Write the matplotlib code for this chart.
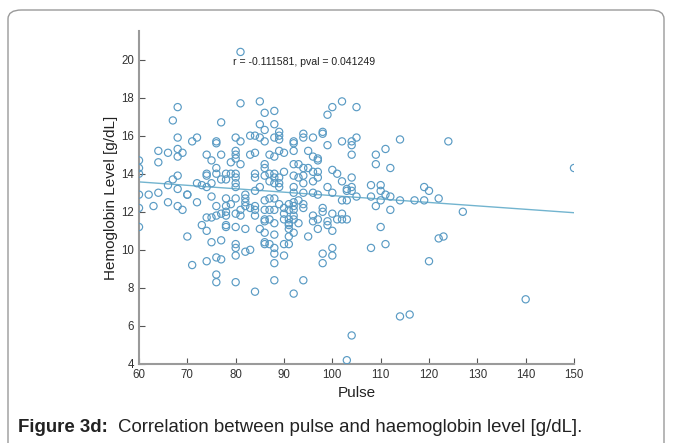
import matplotlib
matplotlib.use("Agg")
import matplotlib.pyplot as plt
from matplotlib.patches import FancyBboxPatch

plt.rcParams['font.family'] = ['Liberation Sans', 'DejaVu Sans']

pulse = [
    68, 81, 85, 67, 77, 86, 88, 85, 88, 86, 89, 89, 89, 68, 71, 72, 76, 76, 80, 81,
    83, 84, 85, 86, 88, 68, 69, 66, 64, 68, 74, 77, 80, 80, 83, 84, 87, 88, 89, 90,
    64, 75, 79, 80, 81, 76, 76, 74, 74, 78, 79, 80, 80, 80, 80, 84, 84, 86, 86, 86,
    87, 88, 88, 88, 89, 89, 89, 87, 90, 68, 67, 66, 72, 73, 74, 75, 77, 78, 82, 84,
    85, 60, 60, 60, 60, 62, 64, 68, 70, 75, 78, 87, 88,
    102, 100, 99, 105, 92, 92, 94, 94, 96, 98, 98, 99, 102, 104, 104, 105, 104, 114,
    111, 109, 109, 112, 92, 95, 96, 97, 97, 92, 93, 94, 95, 96, 97, 92, 93, 94, 94,
    96, 97, 100, 101, 102, 104, 99, 104, 104, 103, 108, 110, 110, 111, 119, 120, 92,
    94, 96, 97, 100, 105, 108, 114, 117, 119, 122, 112, 92, 103, 93,
    60, 60, 63, 66, 68, 69, 70, 71, 73, 74, 74, 75, 76, 77, 78, 78, 76, 78, 78, 80,
    82, 75, 77, 76, 77, 74, 76, 76, 80, 80, 80, 80, 82, 83, 84, 79, 80, 81, 82, 83,
    84, 84, 84, 82, 82, 81, 80, 78, 86, 86, 87, 88, 86, 86, 87, 88, 85, 86, 86, 86,
    87, 88, 88, 88, 88, 88, 90, 90, 89, 90, 90, 90, 91, 91, 72, 70,
    91, 91, 91, 91, 91, 92, 92, 92, 92, 92, 93, 92, 91, 94, 94, 95, 96, 96, 97, 97,
    98, 98, 99, 99, 100, 100, 101, 102, 103, 102, 100, 100, 98, 98, 94, 92, 108, 111,
    110, 109, 112, 122, 123, 120, 102, 103, 110,
    114, 116, 104, 103, 127, 140, 150, 124, 81,
]
hemoglobin = [
    17.5, 17.7, 17.8, 16.8, 16.7, 17.2, 17.3, 16.6, 16.6, 16.3, 16.2, 16.0, 15.8, 15.9, 15.7, 15.9, 15.7, 15.6, 15.9, 15.7,
    16.0, 16.0, 15.9, 15.7, 15.9, 15.3, 15.1, 15.1, 15.2, 14.9, 15.0, 15.0, 15.2, 15.0, 15.0, 15.1, 15.0, 14.9, 15.2, 15.1,
    14.6, 14.7, 14.6, 14.8, 14.5, 14.3, 14.0, 14.0, 13.9, 14.0, 14.0, 14.0, 13.8, 13.5, 13.3, 14.0, 13.8, 14.5, 14.3, 13.9,
    14.0, 14.0, 13.8, 13.5, 13.8, 13.5, 13.3, 13.6, 14.1, 13.9, 13.7, 13.4, 13.5, 13.4, 13.3, 13.5, 13.7, 13.7, 12.9, 13.1,
    13.3, 14.7, 14.3, 14.0, 12.9, 12.9, 13.0, 13.2, 12.9, 12.8, 12.7, 12.7, 12.7,
    17.8, 17.5, 17.1, 17.5, 15.7, 15.6, 16.1, 15.9, 15.9, 16.2, 16.1, 15.5, 15.7, 15.7, 15.5, 15.9, 15.0, 15.8,
    15.3, 15.0, 14.5, 14.3, 15.2, 15.2, 14.9, 14.8, 14.7, 14.5, 14.5, 14.3, 14.3, 14.1, 14.1, 13.9, 13.8, 13.9, 13.5,
    13.6, 13.8, 14.2, 14.0, 13.6, 13.8, 13.3, 13.3, 13.1, 13.1, 13.4, 13.4, 13.1, 12.9, 13.3, 13.1, 13.0,
    13.0, 13.0, 12.9, 13.0, 12.8, 12.8, 12.6, 12.6, 12.6, 12.7, 12.8, 13.3, 13.2, 12.6,
    12.2, 11.2, 12.3, 12.5, 12.3, 12.1, 10.7, 9.2, 11.3, 11.0, 11.7, 11.7, 11.8, 11.9, 12.0, 11.8, 12.3, 11.3, 11.2, 11.2,
    11.1, 10.4, 10.5, 9.6, 9.5, 9.4, 8.7, 8.3, 8.3, 10.3, 10.1, 9.7, 9.9, 10.0, 7.8, 12.4, 12.7, 12.1, 12.3, 12.2,
    12.3, 12.1, 11.8, 12.7, 12.5, 11.8, 11.9, 12.3, 12.6, 12.1, 12.1, 12.1, 11.6, 11.5, 11.6, 11.4, 11.1, 10.9, 10.4, 10.3,
    10.3, 10.8, 10.1, 9.8, 9.3, 8.4, 10.3, 9.7, 12.4, 12.2, 11.9, 11.6, 12.4, 11.3, 12.5, 12.9,
    12.1, 11.6, 11.4, 11.1, 10.7, 12.5, 12.3, 12.1, 11.8, 11.6, 11.4, 10.9, 10.3, 12.4, 12.2, 10.7, 11.8, 11.5, 11.6, 11.1,
    12.2, 12.0, 11.5, 11.3, 11.9, 11.0, 11.6, 11.6, 11.6, 11.9, 10.1, 9.7, 9.8, 9.3, 8.4, 7.7, 10.1, 10.3,
    11.2, 12.3, 12.1, 10.6, 10.7, 9.4, 12.6, 12.6, 12.6,
    6.5, 6.6, 5.5, 4.2, 12.0, 7.4, 14.3, 15.7, 20.4,
]

fit_pulse = [60, 150]
fit_hemoglobin = [13.57, 11.95]

x_ticks = [60, 70, 80, 90, 100, 110, 120, 130, 140, 150]
y_ticks = [4, 6, 8, 10, 12, 14, 16, 18, 20]
annotation = "r = -0.111581, pval = 0.041249"

W, H = 673, 443
fig = plt.figure(figsize=(W / 100, H / 100), dpi=100)

# outer rounded frame (behind everything)
frame = FancyBboxPatch((8 / W, -0.05), (656 / W), (1 - 10 / H) + 0.05,
                       boxstyle="round,pad=0,rounding_size=0.02",
                       transform=fig.transFigure, facecolor='white',
                       edgecolor='#9a9a9a', linewidth=1.0, zorder=-10)
fig.add_artist(frame)

ax = fig.add_axes([139 / W, 1 - 364 / H, (574 - 139) / W, (364 - 31) / H])
ax.set_facecolor('none')
ax.set_zorder(5)

ax.scatter(pulse, hemoglobin, s=27, facecolors='none', edgecolors='#5a9bc4',
           linewidths=0.85, zorder=3)
ax.plot(fit_pulse, fit_hemoglobin, color='#72b4cf', linewidth=1.0, zorder=2)

ax.set_xlim(60, 150)
ax.set_ylim(4, 21.5)
ax.set_xticks(x_ticks)
ax.set_yticks(y_ticks)
ax.tick_params(direction='in', length=4, width=0.8, color='#555555',
               labelsize=8.3, labelcolor='#333333')
for side in ['top', 'right']:
    ax.spines[side].set_visible(False)
for side in ['left', 'bottom']:
    ax.spines[side].set_color('#9a9a9a')
    ax.spines[side].set_linewidth(1.5)

ax.set_xlabel('Pulse', fontsize=11, color='#222222', labelpad=4)
ax.set_ylabel('Hemoglobin Level [g/dL]', fontsize=11, color='#222222', labelpad=2)

ax.text(79.5, 19.85, annotation, fontsize=7.6, color='#222222', va='center', ha='left')

fig.text(18 / W, 1 - 428 / H, 'Figure 3d:', fontsize=13.4, fontweight='bold',
         color='#222222', va='center', ha='left', zorder=6)
fig.text(118 / W, 1 - 428 / H, 'Correlation between pulse and haemoglobin level [g/dL].',
         fontsize=13.4, color='#222222', va='center', ha='left', zorder=6)

fig.savefig('out.png', dpi=100)
